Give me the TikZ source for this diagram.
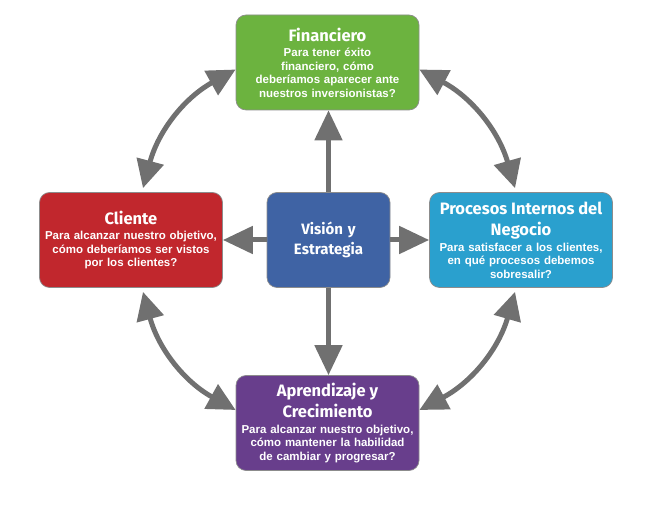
\documentclass[tikz,border=0pt]{standalone}
\usepackage{fontspec}
\setmainfont{Liberation Sans}
\newfontfamily\ttlfam{Fira Sans}
\usetikzlibrary{arrows.meta}
\setlength\parindent{0pt}

\definecolor{fingreen}{RGB}{108,179,63}
\definecolor{clired}{RGB}{193,39,45}
\definecolor{visblue}{RGB}{63,99,164}
\definecolor{procyan}{RGB}{42,160,206}
\definecolor{aprpurple}{RGB}{104,62,140}
\definecolor{arrgrey}{RGB}{112,112,112}

% title line inside a card
\newcommand\cardttl[1]{{\ttlfam\bfseries\fontsize{16.5}{21.5}\selectfont #1\par}\vspace{2pt}}

\begin{document}
\begin{tikzpicture}[x=1pt, y=1pt,
    card/.style={draw=black!45, line width=0.7pt, rounded corners=10pt, text=white,
        align=center, inner sep=0pt, minimum width=183pt, minimum height=95pt,
        text width=180pt, font=\bfseries\fontsize{11.5}{13.5}\selectfont},
    arr/.style={draw=arrgrey, line width=5pt, -{Triangle[length=30pt,width=27pt]}},
    dbl/.style={draw=arrgrey, line width=5pt,
        {Triangle[length=28pt,width=27pt]}-{Triangle[length=28pt,width=27pt]}}
]
    \useasboundingbox (0,0) rectangle (647,516);

    % Perspectives
    \node[card, fill=fingreen] (fin) at (327.5,453.5) {\cardttl{Financiero}Para tener éxito\\ financiero, cómo\\ deberíamos aparecer ante\\ nuestros inversionistas?};
    \node[card, fill=clired] (cli) at (131,276) {\cardttl{Cliente}Para alcanzar nuestro objetivo,\\ cómo deberíamos ser vistos\\ por los clientes?};
    \node[card, fill=procyan] (pro) at (521,276) {\cardttl{Procesos Internos del\\ Negocio}Para satisfacer a los clientes,\\ en qué procesos debemos\\ sobresalir?};
    \node[card, fill=aprpurple] (apr) at (327.5,93) {\cardttl{Aprendizaje y\\ Crecimiento}Para alcanzar nuestro objetivo,\\ cómo mantener la habilidad\\ de cambiar y progresar?};

    % Centre
    \node[card, fill=visblue, minimum width=123pt, text width=120pt,
        font=\ttlfam\bfseries\fontsize{15}{20}\selectfont] (vis) at (328.5,276) {Visión y\\ Estrategia};

    % Straight arrows from the centre
    \draw[arr] (vis.north) -- (vis.north |- fin.south);
    \draw[arr] (vis.south) -- (vis.south |- apr.north);
    \draw[arr] (vis.west) -- (cli.east);
    \draw[arr] (vis.east) -- (pro.west);

    % Curved arrows round the ring
    \draw[dbl] ([yshift=-7pt]fin.west) to[bend right=23] ([xshift=12pt,yshift=4pt]cli.north);
    \draw[dbl] ([yshift=-7pt]fin.east) to[bend left=23] ([xshift=-6pt,yshift=4pt]pro.north);
    \draw[dbl] ([yshift=13pt]apr.west) to[bend left=23] ([xshift=12pt,yshift=-4pt]cli.south);
    \draw[dbl] ([yshift=13pt]apr.east) to[bend right=23] ([xshift=-6pt,yshift=-4pt]pro.south);
\end{tikzpicture}
\end{document}
